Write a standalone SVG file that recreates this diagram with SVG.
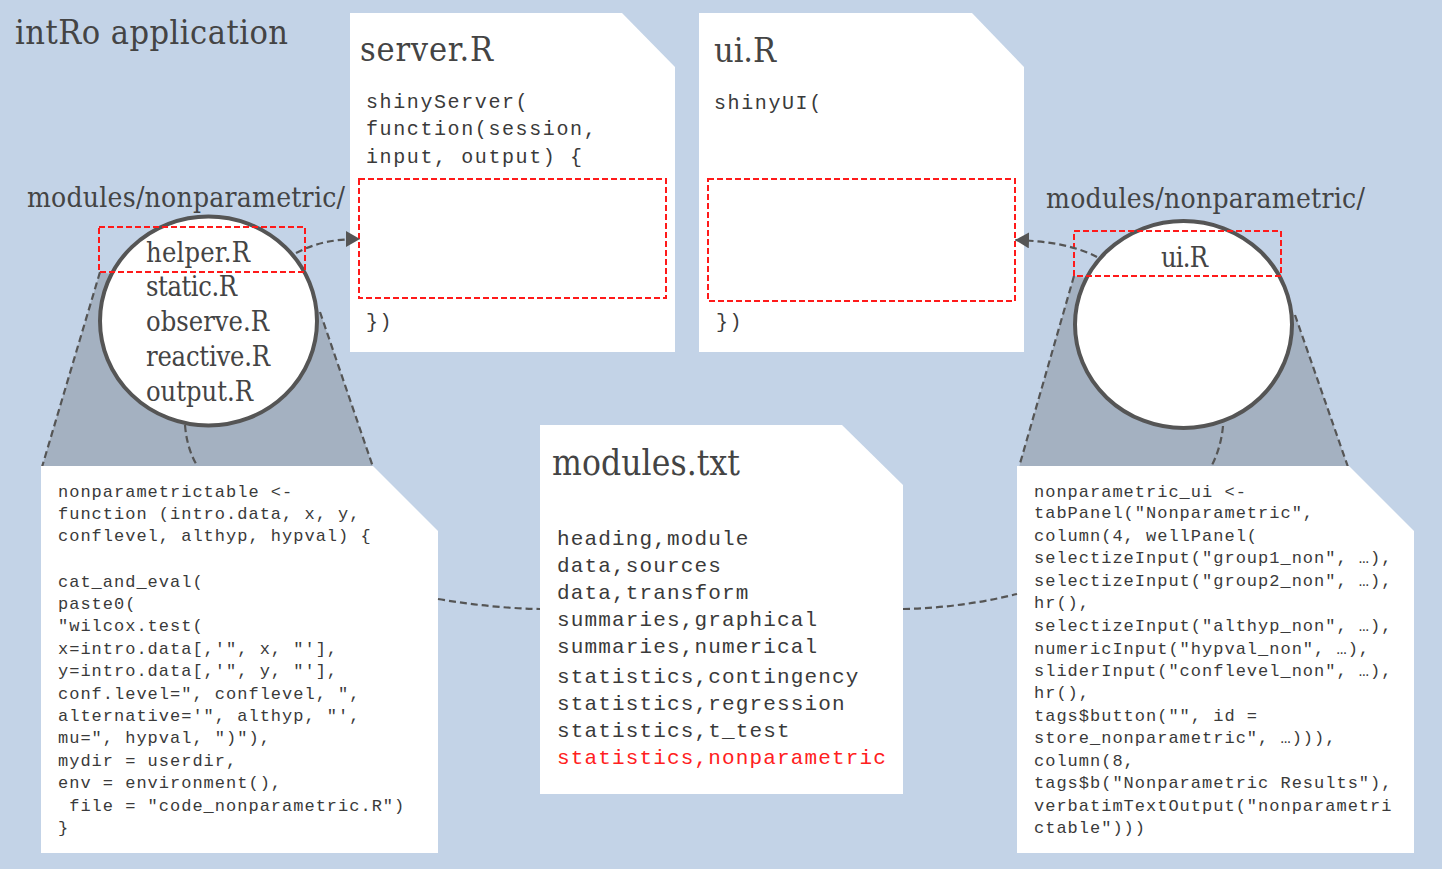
<svg xmlns="http://www.w3.org/2000/svg" width="1456" height="869" viewBox="0 0 1456 869">
<defs>
<style>
.bg{fill:#C3D3E7}
.doc{fill:#ffffff}
.title{font-family:"DejaVu Serif Condensed","DejaVu Serif",serif;fill:#444444}
.item{font-family:"DejaVu Serif Condensed","DejaVu Serif",serif;font-size:27px;fill:#444444}
.code{font-family:"Liberation Mono","Courier New",monospace;fill:#3a3a3a}
.c20{font-size:20px;letter-spacing:1.6px}
.c17{font-size:17px;letter-spacing:1.0px}
.c21{font-size:21px;letter-spacing:1.15px}
.red{fill:none;stroke:#ff1a1a;stroke-width:2;stroke-dasharray:6 3}
.dash{fill:none;stroke:#555555;stroke-width:2.2;stroke-dasharray:7 4}
.lens{fill:#A4B1C1}
.circ{fill:#ffffff;stroke:#555555;stroke-width:4}
</style>
<marker id="arr" viewBox="0 0 14 16" refX="14" refY="8" markerWidth="14" markerHeight="16" markerUnits="userSpaceOnUse" orient="auto">
<path d="M0,0 L14,8 L0,16 Z" fill="#555555"/>
</marker>
</defs>
<rect class="bg" x="0" y="0" width="1442" height="869"/>
<text class="title" x="15" y="44" font-size="34" textLength="273">intRo application</text>

<g id="server">
<path class="doc" d="M350,13 H622 L675,67 V352 H350 Z"/>
<text class="title" x="360" y="61" font-size="34" textLength="133">server.R</text>
<text class="code c20" x="366" y="108">shinyServer(</text>
<text class="code c20" x="366" y="135">function(session,</text>
<text class="code c20" x="366" y="163">input, output) {</text>
<rect class="red" x="359" y="179" width="307" height="119"/>
<text class="code c20" x="366" y="328">})</text>
</g>

<g id="ui">
<path class="doc" d="M699,13 H972 L1024,67 V352 H699 Z"/>
<text class="title" x="714" y="62" font-size="34" textLength="62">ui.R</text>
<text class="code c20" x="714" y="109">shinyUI(</text>
<rect class="red" x="708" y="179" width="307" height="122"/>
<text class="code c20" x="716" y="328">})</text>
</g>

<g id="left-module">
<text class="title" x="27" y="207" font-size="28" textLength="318">modules/nonparametric/</text>
<polygon class="lens" points="100,272 320,312 373,467 42,467"/>
<line class="dash" x1="100" y1="272" x2="42" y2="467"/>
<line class="dash" x1="320" y1="312" x2="373" y2="467"/>
<path class="dash" d="M185,425 Q187,450 198,467"/>
<ellipse class="circ" cx="208.5" cy="321" rx="108.5" ry="104.5"/>
<text class="item" x="146" y="262" textLength="104">helper.R</text>
<text class="item" x="146" y="296" textLength="91">static.R</text>
<text class="item" x="146" y="331" textLength="123">observe.R</text>
<text class="item" x="146" y="366" textLength="124">reactive.R</text>
<text class="item" x="146" y="401" textLength="107">output.R</text>
<rect class="red" x="99" y="227" width="206" height="45"/>
</g>

<g id="right-module">
<text class="title" x="1046" y="208" font-size="28" textLength="319">modules/nonparametric/</text>
<polygon class="lens" points="1074,276 1295,315 1348,467 1019,467"/>
<line class="dash" x1="1074" y1="276" x2="1019" y2="467"/>
<line class="dash" x1="1295" y1="315" x2="1348" y2="467"/>
<path class="dash" d="M1223,426 Q1221,448 1211,467"/>
<ellipse class="circ" cx="1183.5" cy="324.5" rx="108.5" ry="103.5"/>
<text class="item" x="1161" y="267" textLength="47">ui.R</text>
<rect class="red" x="1074" y="231" width="207" height="45"/>
</g>

<g id="helper-code">
<path class="doc" d="M41,466 H373 L438,531 V853 H41 Z"/>
<text class="code c17" x="58" y="497">nonparametrictable &lt;-</text>
<text class="code c17" x="58" y="519">function (intro.data, x, y,</text>
<text class="code c17" x="58" y="541">conflevel, althyp, hypval) {</text>
<text class="code c17" x="58" y="587">cat_and_eval(</text>
<text class="code c17" x="58" y="609">paste0(</text>
<text class="code c17" x="58" y="631">"wilcox.test(</text>
<text class="code c17" x="58" y="654">x=intro.data[,'", x, "'],</text>
<text class="code c17" x="58" y="676">y=intro.data[,'", y, "'],</text>
<text class="code c17" x="58" y="699">conf.level=", conflevel, ",</text>
<text class="code c17" x="58" y="721">alternative='", althyp, "',</text>
<text class="code c17" x="58" y="743">mu=", hypval, ")"),</text>
<text class="code c17" x="58" y="766">mydir = userdir,</text>
<text class="code c17" x="58" y="788">env = environment(),</text>
<text class="code c17" x="58" y="811" xml:space="preserve"> file = "code_nonparametric.R")</text>
<text class="code c17" x="58" y="833">}</text>
</g>

<g id="modules-txt">
<path class="doc" d="M540,425 H842 L903,485 V794 H540 Z"/>
<text class="title" x="552" y="475" font-size="35" textLength="188">modules.txt</text>
<text class="code c21" x="557" y="545">heading,module</text>
<text class="code c21" x="557" y="572">data,sources</text>
<text class="code c21" x="557" y="599">data,transform</text>
<text class="code c21" x="557" y="626">summaries,graphical</text>
<text class="code c21" x="557" y="653">summaries,numerical</text>
<text class="code c21" x="557" y="683">statistics,contingency</text>
<text class="code c21" x="557" y="710">statistics,regression</text>
<text class="code c21" x="557" y="737">statistics,t_test</text>
<text class="code c21" x="557" y="764" style="fill:#ff2020">statistics,nonparametric</text>
</g>

<g id="ui-code">
<path class="doc" d="M1017,466 H1349 L1414,531 V853 H1017 Z"/>
<text class="code c17" x="1034" y="497">nonparametric_ui &lt;-</text>
<text class="code c17" x="1034" y="518">tabPanel("Nonparametric",</text>
<text class="code c17" x="1034" y="541">column(4, wellPanel(</text>
<text class="code c17" x="1034" y="563">selectizeInput("group1_non", …),</text>
<text class="code c17" x="1034" y="586">selectizeInput("group2_non", …),</text>
<text class="code c17" x="1034" y="608">hr(),</text>
<text class="code c17" x="1034" y="631">selectizeInput("althyp_non", …),</text>
<text class="code c17" x="1034" y="654">numericInput("hypval_non", …),</text>
<text class="code c17" x="1034" y="676">sliderInput("conflevel_non", …),</text>
<text class="code c17" x="1034" y="698">hr(),</text>
<text class="code c17" x="1034" y="721">tags$button("", id =</text>
<text class="code c17" x="1034" y="743">store_nonparametric", …))),</text>
<text class="code c17" x="1034" y="766">column(8,</text>
<text class="code c17" x="1034" y="788">tags$b("Nonparametric Results"),</text>
<text class="code c17" x="1034" y="811">verbatimTextOutput("nonparametri</text>
<text class="code c17" x="1034" y="833">ctable")))</text>
</g>

<g id="connectors">
<path class="dash" d="M296,253 C315,243 334,239 360,239" marker-end="url(#arr)"/>
<path class="dash" d="M1097,257 C1078,247 1052,241 1015,240" marker-end="url(#arr)"/>
<path class="dash" d="M438,599 Q490,608 540,609"/>
<path class="dash" d="M903,609 Q960,608 1017,594"/>
</g>
</svg>
